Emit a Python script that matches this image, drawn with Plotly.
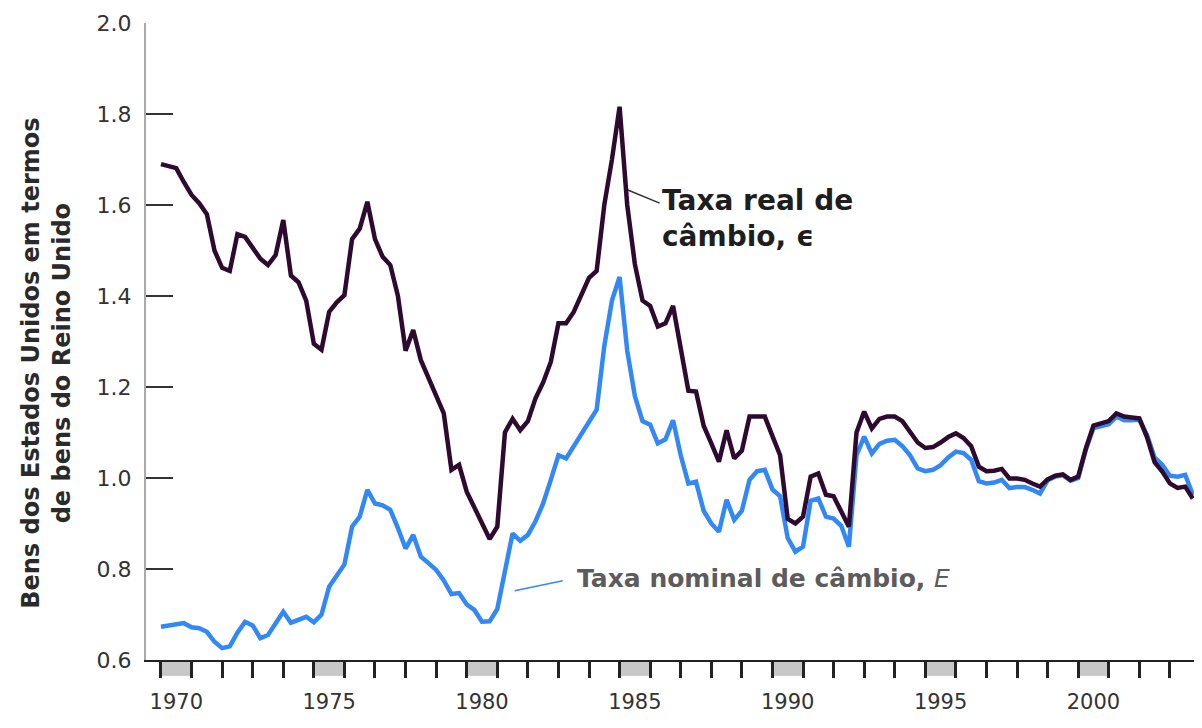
import plotly.graph_objects as go

# quarterly observations, 1970Q1 .. 2003Q4
real_rate = [
    1.690, 1.685, 1.681, 1.650, 1.622, 1.604, 1.580, 1.500,  # 1970-71
    1.462, 1.455, 1.536, 1.530, 1.505, 1.482, 1.468, 1.490,  # 1972-73
    1.567, 1.445, 1.430, 1.390, 1.295, 1.282, 1.365, 1.386,  # 1974-75
    1.402, 1.525, 1.548, 1.607, 1.525, 1.486, 1.468, 1.400,  # 1976-77
    1.280, 1.325, 1.259, 1.220, 1.180, 1.142, 1.018, 1.029,  # 1978-79
    0.970, 0.935, 0.900, 0.866, 0.893, 1.100, 1.130, 1.105,  # 1980-81
    1.125, 1.175, 1.210, 1.255, 1.340, 1.340, 1.365, 1.400,  # 1982-83
    1.440, 1.455, 1.600, 1.700, 1.816, 1.600, 1.470, 1.390,  # 1984-85
    1.378, 1.333, 1.340, 1.378, 1.280, 1.192, 1.190, 1.115,  # 1986-87
    1.076, 1.036, 1.105, 1.043, 1.060, 1.135, 1.135, 1.135,  # 1988-89
    1.092, 1.050, 0.910, 0.900, 0.915, 1.003, 1.010, 0.963,  # 1990-91
    0.960, 0.925, 0.893, 1.100, 1.146, 1.109, 1.130, 1.135,  # 1992-93
    1.135, 1.125, 1.100, 1.078, 1.066, 1.068, 1.078, 1.090,  # 1994-95
    1.098, 1.088, 1.070, 1.025, 1.015, 1.016, 1.020, 0.999,  # 1996-97
    0.999, 0.996, 0.988, 0.981, 0.997, 1.005, 1.008, 0.996,  # 1998-99
    1.003, 1.065, 1.115, 1.120, 1.125, 1.142, 1.135, 1.133,  # 2000-01
    1.131, 1.090, 1.035, 1.014, 0.988, 0.978, 0.981, 0.955,  # 2002-03
]

nominal_rate = [
    0.673, 0.675, 0.677, 0.681, 0.672, 0.670, 0.662, 0.640,  # 1970-71
    0.626, 0.630, 0.660, 0.684, 0.676, 0.648, 0.655, 0.680,  # 1972-73
    0.706, 0.682, 0.688, 0.695, 0.683, 0.700, 0.761, 0.787,  # 1974-75
    0.810, 0.893, 0.915, 0.974, 0.944, 0.940, 0.930, 0.890,  # 1976-77
    0.845, 0.875, 0.827, 0.813, 0.798, 0.775, 0.745, 0.747,  # 1978-79
    0.722, 0.710, 0.684, 0.685, 0.712, 0.795, 0.878, 0.862,  # 1980-81
    0.875, 0.905, 0.944, 0.996, 1.050, 1.043, 1.070, 1.098,  # 1982-83
    1.122, 1.150, 1.290, 1.390, 1.442, 1.280, 1.180, 1.125,  # 1984-85
    1.117, 1.076, 1.085, 1.127, 1.050, 0.988, 0.992, 0.928,  # 1986-87
    0.900, 0.882, 0.952, 0.908, 0.928, 0.996, 1.015, 1.018,  # 1988-89
    0.975, 0.960, 0.868, 0.838, 0.849, 0.950, 0.955, 0.915,  # 1990-91
    0.911, 0.895, 0.849, 1.050, 1.091, 1.054, 1.075, 1.082,  # 1992-93
    1.084, 1.070, 1.050, 1.021, 1.015, 1.018, 1.028, 1.045,  # 1994-95
    1.058, 1.055, 1.040, 0.993, 0.988, 0.990, 0.996, 0.978,  # 1996-97
    0.980, 0.980, 0.974, 0.966, 0.995, 1.003, 1.006, 0.994,  # 1998-99
    1.000, 1.062, 1.110, 1.115, 1.118, 1.135, 1.127, 1.127,  # 2000-01
    1.128, 1.095, 1.045, 1.029, 1.005, 1.003, 1.007, 0.963,  # 2002-03
]

periods = [1970 + 0.25 * i for i in range(len(real_rate))]

label_years = [1970, 1975, 1980, 1985, 1990, 1995, 2000]
all_years = list(range(1970, 2005))
y_ticks = [0.6, 0.8, 1.0, 1.2, 1.4, 1.6, 1.8, 2.0]

FONT = "DejaVu Sans"
REAL_COLOR = "#2e0a31"
NOMINAL_COLOR = "#3289f5"

fig = go.Figure()
fig.add_trace(go.Scatter(
    x=periods, y=nominal_rate, mode="lines",
    line=dict(color=NOMINAL_COLOR, width=4.5), name="Taxa nominal",
))
fig.add_trace(go.Scatter(
    x=periods, y=real_rate, mode="lines",
    line=dict(color=REAL_COLOR, width=4.5), name="Taxa real",
))

# grey boxes under the axis marking the labelled years
for yr in label_years:
    fig.add_shape(
        type="rect", xref="x", yref="paper",
        x0=yr, x1=yr + 1, y0=-0.025, y1=-0.002,
        fillcolor="#c8c8c8", line=dict(width=0), layer="below",
    )

# leader lines for the labels
fig.add_shape(type="line", xref="x", yref="y", x0=1985.27, y0=1.633, x1=1986.31, y1=1.604,
              line=dict(color="#333333", width=1.5))
fig.add_shape(type="line", xref="x", yref="y", x0=1981.57, y0=0.752, x1=1983.14, y1=0.774,
              line=dict(color=NOMINAL_COLOR, width=1.5))

fig.add_annotation(
    x=1986.33, y=1.571, xref="x", yref="y", xanchor="left", yanchor="middle",
    text="Taxa real de<br>câmbio, ϵ", showarrow=False, align="left",
    font=dict(family=FONT, size=28, color="#1e1e1e", weight="bold"),
)
fig.add_annotation(
    x=1983.55, y=0.780, xref="x", yref="y", xanchor="left", yanchor="middle",
    text="Taxa nominal de câmbio, <span style='font-weight:normal'><i>E</i></span>",
    showarrow=False, align="left",
    font=dict(family=FONT, size=25, color="#5c5c5c", weight="bold"),
)
fig.add_annotation(
    x=-0.095, y=0.466, xref="paper", yref="paper", xanchor="center", yanchor="middle",
    text="Bens dos Estados Unidos em termos<br>de bens do Reino Unido",
    textangle=-90, showarrow=False,
    font=dict(family=FONT, size=24, color="#2a2a2a", weight="bold"),
)

fig.update_xaxes(
    range=[1969.51, 2004.05],
    tickmode="array",
    tickvals=[y + 0.5 for y in label_years],
    ticktext=[str(y) for y in label_years],
    ticks="outside", ticklen=22, tickcolor="rgba(0,0,0,0)",
    minor=dict(tickmode="array", tickvals=all_years, ticks="outside",
               ticklen=16, tickwidth=2.5, tickcolor="#222222"),
    showline=True, linecolor="#222222", linewidth=2,
    showgrid=False, zeroline=False,
    tickfont=dict(family=FONT, size=21, color="#333333"),
)
fig.update_yaxes(
    range=[0.6, 2.0],
    tickmode="array", tickvals=y_ticks,
    ticktext=[f"{v:.1f}" for v in y_ticks],
    ticks="inside", ticklen=27, tickwidth=2, tickcolor="#333333",
    showline=True, linecolor="#aaaaaa", linewidth=2,
    showgrid=False, zeroline=False,
    ticklabelstandoff=8,
    tickfont=dict(family=FONT, size=22, color="#333333"),
)

# the page puts the figure 8px in from the top-left corner
fig.update_layout(
    width=1194, height=720,
    margin=dict(l=138, r=0, t=15, b=68),
    plot_bgcolor="white", paper_bgcolor="white",
    showlegend=False,
)

fig.write_html("out.html")
